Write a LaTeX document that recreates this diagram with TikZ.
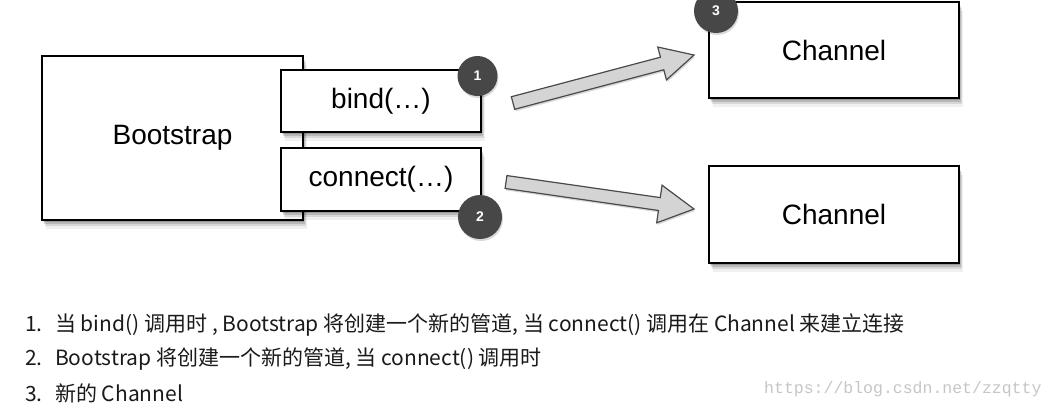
\documentclass[tikz,border=0pt]{standalone}
\usepackage{fontspec}
\setmainfont{Liberation Sans}
\newfontfamily\cjk{Noto Sans CJK SC}
\newfontfamily\wmfont{Liberation Mono}
\usetikzlibrary{shadows,calc}
\definecolor{circgray}{HTML}{474747}
\definecolor{arrfill}{HTML}{D4D4D4}
\definecolor{arrline}{HTML}{4A4A4A}
\definecolor{txtcol}{HTML}{1A1A1A}
\definecolor{wmcol}{HTML}{C6C6C6}
\begin{document}
\begin{tikzpicture}[x=1pt,y=-1pt,
  softshadow/.style={
    drop shadow={shadow xshift=1pt,shadow yshift=-2pt,opacity=.18,fill=black},
    drop shadow={shadow xshift=2pt,shadow yshift=-4pt,opacity=.14,fill=black},
    drop shadow={shadow xshift=3pt,shadow yshift=-6pt,opacity=.10,fill=black},
    drop shadow={shadow xshift=4pt,shadow yshift=-9pt,opacity=.06,fill=black}},
  box/.style={rectangle,draw=black,line width=1.3pt,fill=white,inner sep=0pt,
    font=\fontsize{28}{32}\selectfont,softshadow},
  circ/.style={circle,fill=circgray,text=white,inner sep=0pt,
    font=\bfseries\fontsize{14}{16}\selectfont,
    drop shadow={shadow xshift=1pt,shadow yshift=-2pt,opacity=.15,fill=black}},
  fatarr/.style={fill=arrfill,draw=arrline,line width=1.2pt,line join=miter,
    drop shadow={shadow xshift=1pt,shadow yshift=-2pt,opacity=.15,fill=black}},
  listtxt/.style={anchor=west,inner sep=0pt,text=txtcol,font=\cjk\fontsize{21}{26}\selectfont},
  wm/.style={anchor=west,inner sep=0pt,text=wmcol,font=\wmfont\fontsize{16.5}{20}\selectfont}]
\useasboundingbox (0,0) rectangle (1056,408);
\fill[white] (0,0) rectangle (1056,408);

% boxes
\node[box,minimum width=261pt,minimum height=164pt] (boot) at (172.5,138) {Bootstrap};
\node[box,minimum width=200pt,minimum height=62pt] (bind) at (381,101) {bind(…)};
\node[box,minimum width=200pt,minimum height=63pt] (conn) at (381,179.5) {connect(…)};
\node[box,minimum width=250pt,minimum height=96pt] (ch1) at (834,50) {Channel};
\node[box,minimum width=250pt,minimum height=97pt] (ch2) at (834,214.5) {Channel};

% arrows
\coordinate (a1s) at (513,103);
\coordinate (a1e) at (694,55);
\coordinate (h1) at ($(a1e)!33pt!(a1s)$);
\draw[fatarr] ($(a1s)!6.5pt!90:(a1e)$) -- ($(h1)!6.5pt!90:(a1e)$) -- ($(h1)!17pt!90:(a1e)$)
  -- (a1e) -- ($(h1)!17pt!-90:(a1e)$) -- ($(h1)!6.5pt!-90:(a1e)$) -- ($(a1s)!6.5pt!-90:(a1e)$) -- cycle;

\coordinate (a2s) at (506,182);
\coordinate (a2e) at (694,209);
\coordinate (h2) at ($(a2e)!35pt!(a2s)$);
\draw[fatarr] ($(a2s)!6.5pt!90:(a2e)$) -- ($(h2)!6.5pt!90:(a2e)$) -- ($(h2)!19pt!90:(a2e)$)
  -- (a2e) -- ($(h2)!19pt!-90:(a2e)$) -- ($(h2)!6.5pt!-90:(a2e)$) -- ($(a2s)!6.5pt!-90:(a2e)$) -- cycle;

% number badges
\node[circ,minimum size=40pt] (c1) at (477.5,76) {1};
\node[circ,minimum size=44pt] (c2) at (480,217) {2};
\node[circ,minimum size=44pt] (c3) at (716,11) {3};

% list
\node[listtxt] (l1) at (25,325) {\makebox[30pt][l]{1.}当 bind() 调用时 , Bootstrap 将创建一个新的管道, 当 connect() 调用在 Channel 来建立连接};
\node[listtxt] (l2) at (25,359) {\makebox[30pt][l]{2.}Bootstrap 将创建一个新的管道, 当 connect() 调用时};
\node[listtxt] (l3) at (25,393) {\makebox[30pt][l]{3.}新的 Channel};
\node[wm] (wmk) at (764,389) {https://blog.csdn.net/zzqtty};
\end{tikzpicture}
\end{document}
